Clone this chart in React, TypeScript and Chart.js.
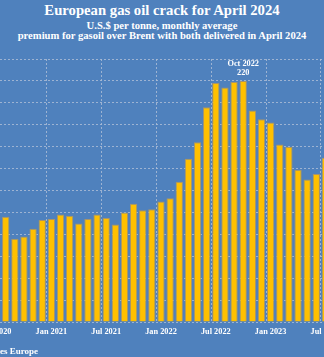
import { useEffect, useRef } from 'react';
import { Chart, registerables } from 'chart.js';

Chart.register(...registerables);

const categories = [
  'Jul 2020', 'Aug 2020', 'Sep 2020', 'Oct 2020', 'Nov 2020', 'Dec 2020',
  'Jan 2021', 'Feb 2021', 'Mar 2021', 'Apr 2021', 'May 2021', 'Jun 2021',
  'Jul 2021', 'Aug 2021', 'Sep 2021', 'Oct 2021', 'Nov 2021', 'Dec 2021',
  'Jan 2022', 'Feb 2022', 'Mar 2022', 'Apr 2022', 'May 2022', 'Jun 2022',
  'Jul 2022', 'Aug 2022', 'Sep 2022', 'Oct 2022', 'Nov 2022', 'Dec 2022',
  'Jan 2023', 'Feb 2023', 'Mar 2023', 'Apr 2023', 'May 2023', 'Jun 2023',
  'Jul 2023',
];

const crackValues = [
  null, 96, 76, 78, 85, 93,
  94, 98, 97, 90, 94, 98,
  95, 89, 100, 108, 102, 103,
  110, 113, 128, 149, 164, 196,
  218, 214, 219, 220, 193, 185,
  182, 162, 160, 139, 130, 135,
  150,
];

const tickLabels = ['Jul 2020', 'Jan 2021', 'Jul 2021', 'Jan 2022', 'Jul 2022', 'Jan 2023', 'Jul 2023'];

const yMin = 0;
const yMax = 240;
const yStep = 20;
const peakCategory = 'Oct 2022';

const FONT = '"Liberation Serif", "Times New Roman", serif';
const BG = '#4f81bd';
const GRID = 'rgba(170,188,214,0.85)';

const peakPlugin = {
  id: 'peakLabel',
  afterDatasetsDraw(chart: any) {
    const idx = categories.indexOf(peakCategory);
    const bar = chart.getDatasetMeta(0).data[idx];
    if (!bar) return;
    const ctx = chart.ctx;
    ctx.save();
    ctx.fillStyle = '#ffffff';
    ctx.font = `bold 8.3px ${FONT}`;
    ctx.textAlign = 'center';
    ctx.textBaseline = 'alphabetic';
    ctx.fillText(peakCategory, bar.x, bar.y - 15);
    ctx.fillText(String(crackValues[idx]), bar.x, bar.y - 6);
    ctx.restore();
  },
};

export default function App() {
  const canvasRef = useRef<HTMLCanvasElement | null>(null);

  useEffect(() => {
    if (!canvasRef.current) return;
    const chart = new Chart(canvasRef.current, {
      type: 'bar',
      data: {
        labels: categories,
        datasets: [
          {
            data: crackValues as any,
            backgroundColor: '#ffc000',
            borderColor: '#a8946a',
            borderWidth: 1,
            categoryPercentage: 1,
            barPercentage: 0.8,
          },
        ],
      },
      options: {
        animation: false,
        responsive: false,
        maintainAspectRatio: false,
        layout: { padding: 0 },
        plugins: {
          legend: { display: false },
          tooltip: { enabled: false },
          title: { display: false },
        },
        scales: {
          x: {
            offset: true,
            grid: {
              offset: true,
              drawTicks: false,
              color: (ctx: any) => (ctx.index % 6 === 0 ? GRID : 'transparent'),
              lineWidth: 1,
            },
            border: { display: false, dash: [2, 2] },
            ticks: {
              autoSkip: false,
              maxRotation: 0,
              minRotation: 0,
              padding: 5,
              color: '#ffffff',
              font: { family: FONT, size: 8.3, weight: 'bold' },
              callback: function (this: any, _v: any, i: number) {
                const lab = categories[i];
                return tickLabels.includes(lab) ? lab : '';
              },
            },
            afterFit: (s: any) => {
              s.height = 37;
              s.paddingLeft = 0;
              s.paddingRight = 0;
            },
          },
          y: {
            min: yMin,
            max: yMax,
            ticks: { display: false, stepSize: yStep },
            grid: { drawTicks: false, color: GRID, lineWidth: 1 },
            border: { display: false, dash: [2, 2] },
            afterFit: (s: any) => {
              s.width = 0;
              s.paddingTop = 0;
              s.paddingBottom = 0;
            },
          },
        },
      },
      plugins: [peakPlugin],
    });
    return () => chart.destroy();
  }, []);

  return (
    <div
      style={{
        position: 'fixed',
        left: 0,
        top: 0,
        width: 324,
        height: 357,
        overflow: 'hidden',
        background: BG,
        color: '#ffffff',
        fontFamily: FONT,
      }}
    >
      <div
        style={{
          position: 'absolute',
          left: 0,
          top: 2.2,
          width: 324,
          textAlign: 'center',
          fontWeight: 'bold',
          fontSize: 14.7,
          lineHeight: '17px',
          whiteSpace: 'nowrap',
        }}
      >
        European gas oil crack for April 2024
      </div>
      <div
        style={{
          position: 'absolute',
          left: 0,
          top: 20.7,
          width: 324,
          textAlign: 'center',
          fontWeight: 'bold',
          fontSize: 10.6,
          lineHeight: '10px',
          whiteSpace: 'nowrap',
        }}
      >
        U.S.$ per tonne, monthly average
        <br />
        premium for gasoil over Brent with both delivered in April 2024
      </div>
      <canvas
        ref={canvasRef}
        width={338}
        height={300}
        style={{ position: 'absolute', left: -8, top: 59, width: 338, height: 300 }}
      />
      <div
        style={{
          position: 'absolute',
          right: 286,
          top: 345.7,
          fontWeight: 'bold',
          fontSize: 9,
          lineHeight: '10px',
          whiteSpace: 'nowrap',
        }}
      >
        Source: ICE Futures Europe
      </div>
    </div>
  );
}
